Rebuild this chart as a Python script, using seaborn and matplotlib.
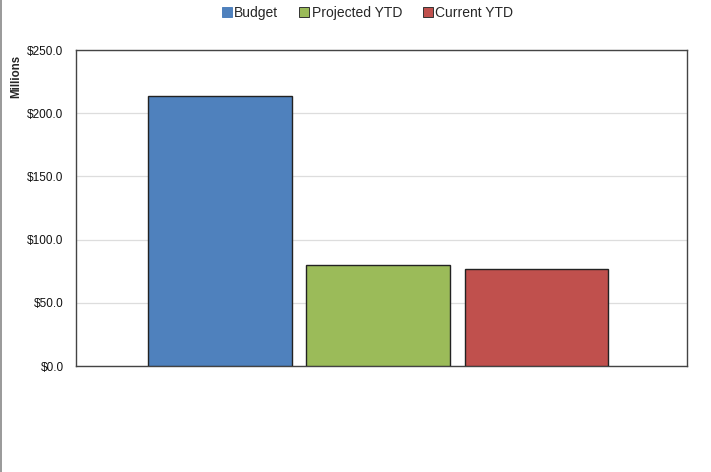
import matplotlib
matplotlib.use("Agg")
import matplotlib.pyplot as plt
import seaborn as sns
import pandas as pd
from matplotlib.lines import Line2D
from matplotlib.ticker import FuncFormatter

series = ["Budget", "Projected YTD", "Current YTD"]
values = [213.8, 80.2, 76.6]
colors = ["#4F81BD", "#9BBB59", "#C0504D"]
yticks = [0, 50, 100, 150, 200, 250]

sns.set_theme(style="white")
plt.rcParams['font.family'] = ['Liberation Sans', 'DejaVu Sans']

df = pd.DataFrame({"group": [""] * 3, "series": series, "value": values})

fig = plt.figure(figsize=(7.11, 4.72), dpi=100)
ax = fig.add_axes([76/711, 106/472, 611/711, 316/472])

sns.barplot(data=df, x="group", y="value", hue="series", hue_order=series,
            palette=colors, width=0.776, gap=0.089, dodge=True,
            edgecolor="#222222", linewidth=1.0, saturation=1, ax=ax, legend=False, zorder=3)

ax.set_xlim(-0.495, 0.505)
ax.set_ylim(0, 250)
ax.set_yticks(yticks)
ax.yaxis.set_major_formatter(FuncFormatter(lambda v, p: f"${v:.1f}"))
ax.tick_params(axis="y", length=0, labelsize=8.5, pad=9, colors="#111111")
ax.set_xticks([])
ax.set_xlabel("")
ax.set_ylabel("")
ax.grid(axis="y", color="#DDDDDD", linewidth=0.9, zorder=0)
ax.set_axisbelow(True)
for s in ax.spines.values():
    s.set_color("#444444")
    s.set_linewidth(1.0)

fig.text(16.5/711, 1 - 76/472, "Millions", rotation=90, fontsize=8.3, fontweight="bold",
         ha="center", va="center")

edge_cols = [colors[0], "#333333", "#333333"]
handles = [Line2D([0], [0], marker="s", linestyle="none", markersize=6.5,
                  markerfacecolor=c, markeredgecolor=e, markeredgewidth=0.7)
           for c, e in zip(colors, edge_cols)]
fig.legend(handles, series, loc="center", bbox_to_anchor=(368/711, 1 - 13/472), ncol=3,
           frameon=False, fontsize=10, handlelength=0.6, handletextpad=0.25,
           columnspacing=1.55, borderaxespad=0)

fig.add_artist(Line2D([1.5/711, 1.5/711], [0, 1], transform=fig.transFigure,
                      color="#888888", linewidth=1.2))

fig.savefig("out.png", dpi=100)
